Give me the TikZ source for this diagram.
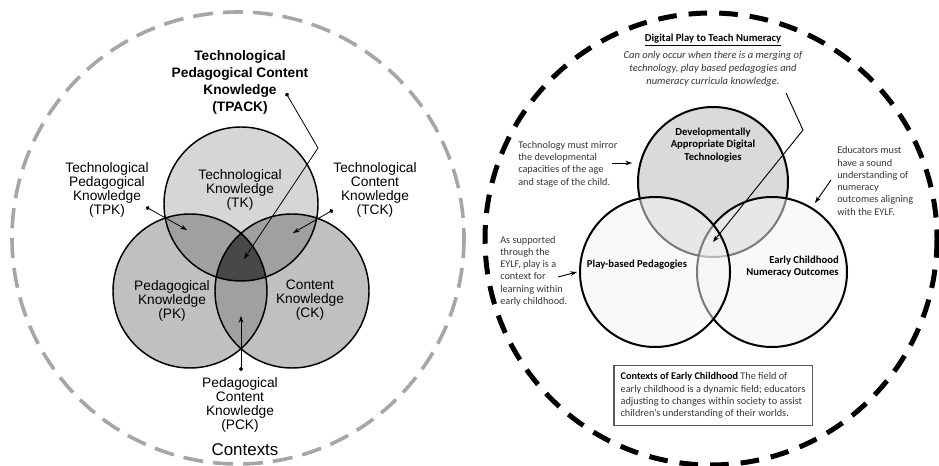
\documentclass[tikz,border=0pt]{standalone}
\usepackage{fontspec}
\setmainfont{Liberation Sans}
\newfontfamily\carlito{Carlito}
\usetikzlibrary{arrows.meta}
\definecolor{tkgray}{RGB}{214,214,214}
\definecolor{pkgray}{RGB}{192,192,192}
\definecolor{pairgray}{RGB}{160,160,160}
\definecolor{coregray}{RGB}{72,72,72}
\definecolor{datgray}{RGB}{218,218,218}
\definecolor{lowgray}{RGB}{244,244,244}

\begin{document}
\begin{tikzpicture}[x=0.75pt,y=-0.75pt,
  lbl/.style={font=\fontsize{10.3}{10.5}\selectfont,align=center,inner sep=0pt},
  note/.style={font=\carlito\fontsize{7.7}{9.2}\selectfont,text=black!78,align=left,inner sep=0pt},
  boldnote/.style={font=\carlito\bfseries\fontsize{8}{9.4}\selectfont,inner sep=0pt},
  ptr/.style={line width=0.7pt,-{Stealth[length=5pt,width=3.5pt]}},
  dotptr/.style={line width=0.6pt,{Circle[length=3pt]}-{Stealth[length=5pt,width=3.5pt]}}]
\useasboundingbox (0,0) rectangle (939,466);
\fill[white] (0,0) rectangle (939,466);

% TPACK side
\draw[color=black!35,line width=2.7pt,dash pattern=on 15pt off 7.5pt] (238,238) circle (226);
\coordinate (tk) at (241,204);
\coordinate (pk) at (190,291);
\coordinate (ck) at (292,291);
\fill[tkgray] (tk) circle (77);
\fill[pkgray] (pk) circle (77);
\fill[pkgray] (ck) circle (77);
\begin{scope}
  \clip (tk) circle (77);
  \fill[pairgray] (pk) circle (77);
  \fill[pairgray] (ck) circle (77);
\end{scope}
\begin{scope}
  \clip (pk) circle (77);
  \fill[pairgray] (ck) circle (77);
\end{scope}
\begin{scope}
  \clip (tk) circle (77);
  \clip (pk) circle (77);
  \fill[coregray] (ck) circle (77);
\end{scope}
\foreach \c in {tk,pk,ck}
  \draw[line width=1.1pt] (\c) circle (77);

\node[lbl,font=\bfseries\fontsize{10.3}{12.75}\selectfont] (tpack) at (240,82.5)
  {Technological\\Pedagogical Content\\Knowledge\\(TPACK)};
\node[lbl] (tpk) at (107,190) {Technological\\Pedagogical\\Knowledge\\(TPK)};
\node[lbl] (tklbl) at (240,190) {Technological\\Knowledge\\(TK)};
\node[lbl] (tck) at (375,190) {Technological\\Content\\Knowledge\\(TCK)};
\node[lbl] (pklbl) at (172,300.5) {Pedagogical\\Knowledge\\(PK)};
\node[lbl] (cklbl) at (310,300.5) {Content\\Knowledge\\(CK)};
\node[lbl] (pck) at (240,405) {Pedagogical\\Content\\Knowledge\\(PCK)};
\node[lbl,font=\fontsize{12.7}{14}\selectfont] (contexts) at (245,450) {Contexts};

\coordinate (tpackdot) at (286,93);
\coordinate (tpackbend) at (318,148);
\coordinate (tpackend) at (244,259);
\coordinate (tpkdot) at (146,207);
\coordinate (tpkend) at (187,230);
\coordinate (tckdot) at (333,210);
\coordinate (tckend) at (293,233);
\coordinate (pckdot) at (241,371);
\coordinate (pckend) at (241,316);
\draw[dotptr] (tpackdot) -- (tpackbend) -- (tpackend);
\draw[dotptr] (tpkdot) -- (tpkend);
\draw[dotptr] (tckdot) -- (tckend);
\draw[dotptr] (pckdot) -- (pckend);

% digital play side
\draw[line width=3.75pt,dash pattern=on 14pt off 9pt] (711,239) circle (226);
\coordinate (dat) at (713,182);
\coordinate (pbp) at (655,272);
\coordinate (eco) at (772,272);
\filldraw[fill=datgray,line width=1.5pt] (dat) circle (75);
\filldraw[fill=lowgray,fill opacity=0.5,line width=1.5pt] (eco) circle (75);
\filldraw[fill=lowgray,fill opacity=0.5,line width=1.5pt] (pbp) circle (75);

\node[font=\carlito\bfseries\fontsize{8}{9}\selectfont,inner sep=0pt] (title) at (713,40)
  {\underline{Digital Play to Teach Numeracy}};
\node[note,align=center,font=\carlito\itshape\fontsize{7.9}{9.75}\selectfont] (merge) at (713,69)
  {Can only occur when there is a merging of\\technology, play based pedagogies and\\numeracy curricula knowledge.};
\node[note,anchor=west] (mirror) at (518,164)
  {Technology must mirror\\the developmental\\capacities of the age\\and stage of the child.};
\node[note,anchor=west] (educators) at (837,181)
  {Educators must\\have a sound\\understanding of\\numeracy\\outcomes aligning\\with the EYLF.};
\node[note,anchor=west] (supported) at (500,271)
  {As supported\\through the\\EYLF, play is a\\context for\\learning within\\early childhood.};
\node[boldnote,align=center] (datlbl) at (713,145)
  {Developmentally\\Appropriate Digital\\Technologies};
\node[boldnote] (pbplbl) at (637,265) {Play-based Pedagogies};
\node[boldnote,align=right,anchor=east] (ecolbl) at (839,266.5)
  {Early Childhood\\Numeracy Outcomes};
\node[note,draw=black!65,line width=0.8pt,inner xsep=5pt,inner ysep=5pt] (ctxbox) at (713,395.5)
  {{\color{black}\bfseries Contexts of Early Childhood} The field of\\early childhood is a dynamic field; educators\\adjusting to changes within society to assist\\children’s understanding of their worlds.};

\coordinate (mergestart) at (786,93);
\coordinate (mergebend) at (803,130);
\coordinate (mergeend) at (713,242);
\coordinate (mirrorstart) at (612,163);
\coordinate (mirrorend) at (632,163);
\coordinate (edustart) at (831,180);
\coordinate (eduend) at (815,203);
\coordinate (supstart) at (558,277);
\coordinate (supend) at (577,272);
\draw[ptr] (mergestart) -- (mergebend) -- (mergeend);
\draw[ptr] (mirrorstart) -- (mirrorend);
\draw[ptr] (edustart) -- (eduend);
\draw[ptr] (supstart) -- (supend);
\end{tikzpicture}
\end{document}
